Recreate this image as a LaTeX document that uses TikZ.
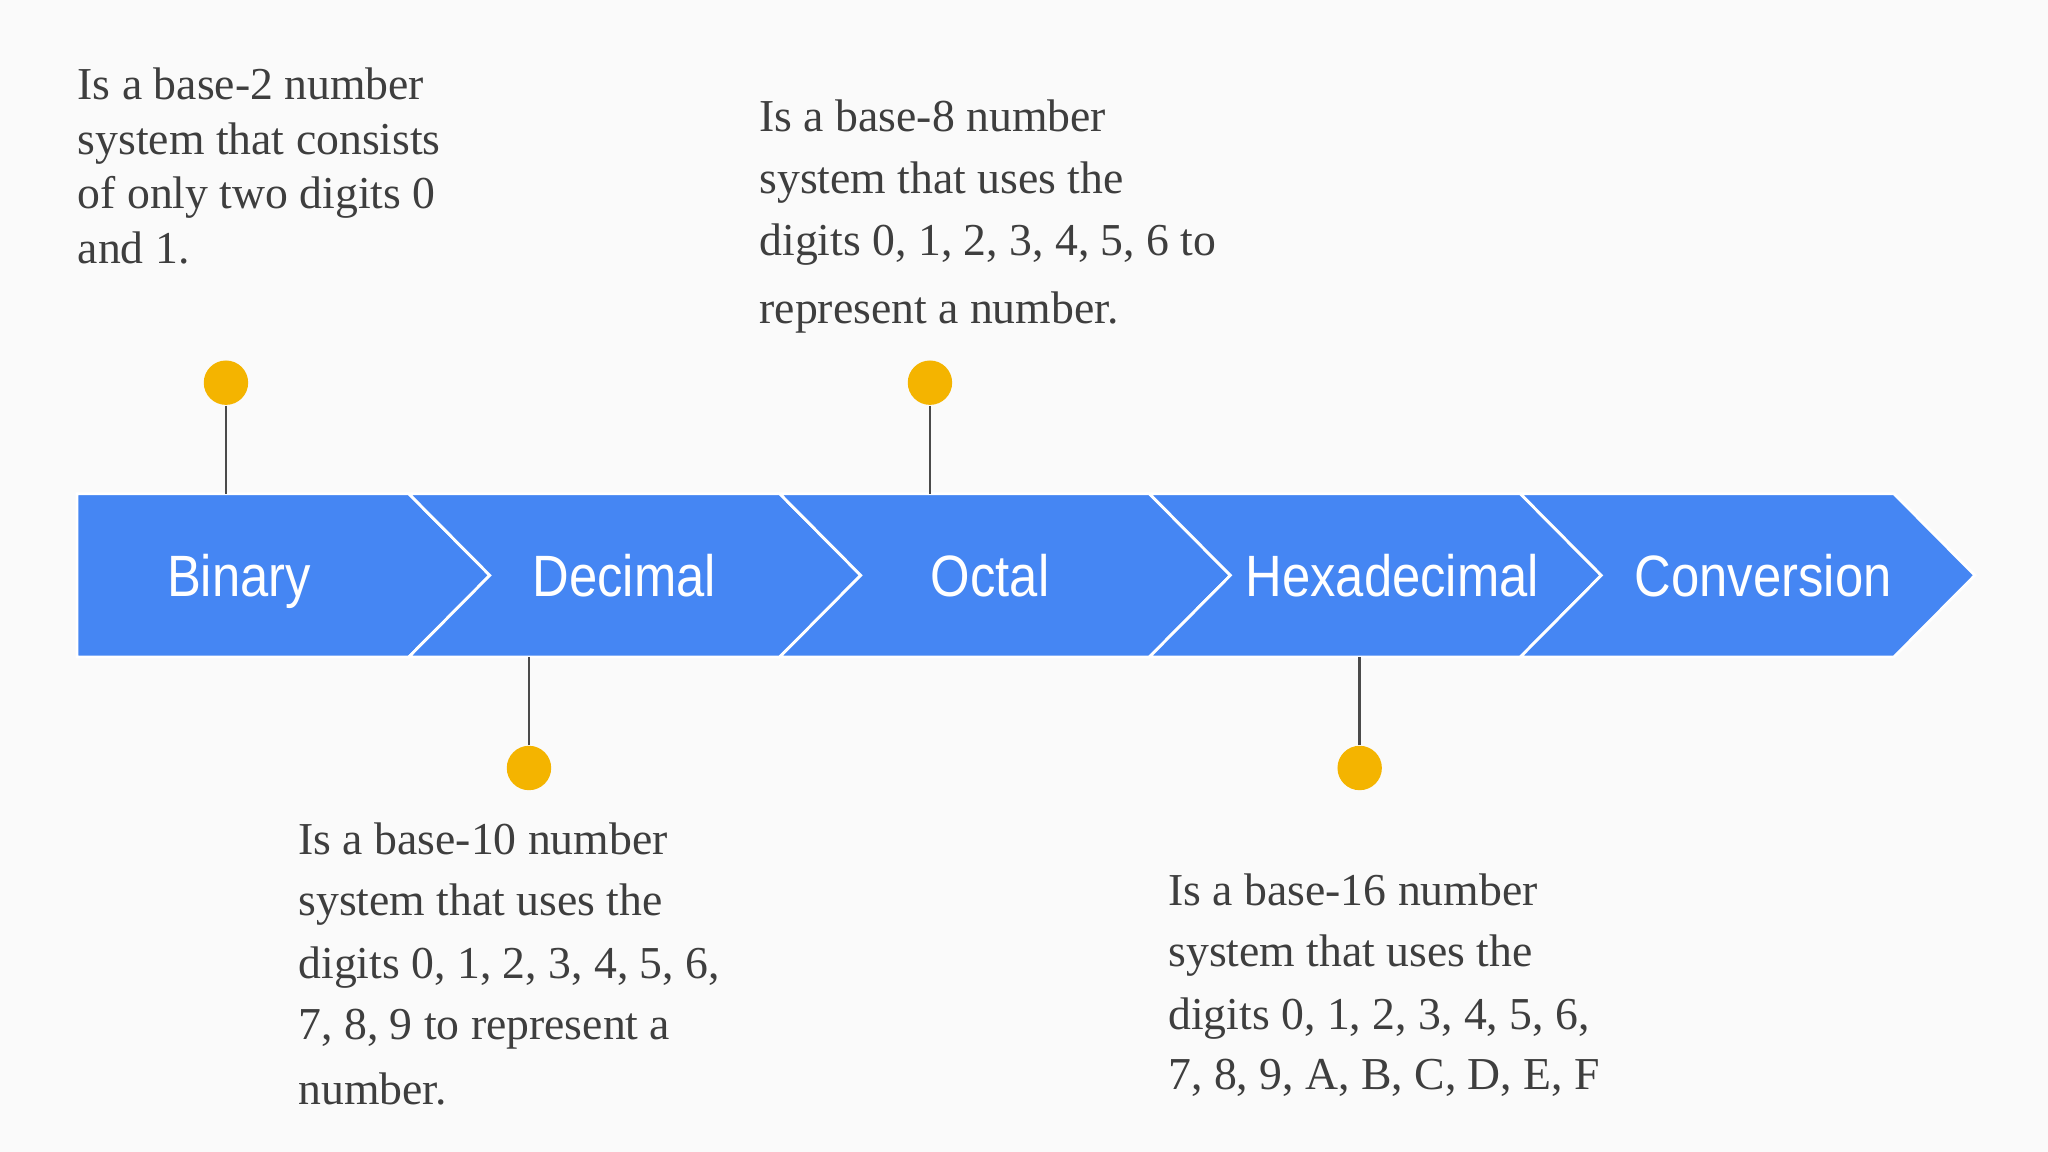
\documentclass[tikz,border=0pt]{standalone}
\usepackage{fontspec}
\setmainfont{Liberation Serif}
\newfontfamily\labfont[FakeStretch=0.87]{Liberation Sans}
\definecolor{bg}{HTML}{FAFAFA}
\definecolor{band}{HTML}{4586F3}
\definecolor{dotc}{HTML}{F4B400}
\definecolor{txtc}{HTML}{3E3E3E}
\definecolor{stem}{HTML}{4A4A4A}
\tikzset{
  seg/.style={fill=band, draw=white, line width=0.8pt, line join=miter},
  lab/.style={text=white, font=\labfont\fontsize{16.6}{18}\selectfont, anchor=base, inner sep=0pt},
  dotn/.style={circle, fill=dotc, minimum size=0.444cm, inner sep=0pt},
  stemline/.style={draw=stem, line width=0.8pt},
  txt/.style={text=txtc, font=\fontsize{13}{15}\selectfont, anchor=base west, inner sep=0pt}
}
\begin{document}
\begin{tikzpicture}[x=0.01306cm, y=-0.01306cm]
\fill[bg] (0,0) rectangle (1568,882);
\useasboundingbox (0,0) rectangle (1568,882);
% band segments
\path[seg] (59,378) -- (313,378) -- (375,440.5) -- (313,503) -- (59,503) -- cycle;
\path[seg] (313,378) -- (597,378) -- (659,440.5) -- (597,503) -- (313,503) -- (375,440.5) -- cycle;
\path[seg] (597,378) -- (880,378) -- (942,440.5) -- (880,503) -- (597,503) -- (659,440.5) -- cycle;
\path[seg] (880,378) -- (1164,378) -- (1226,440.5) -- (1164,503) -- (880,503) -- (942,440.5) -- cycle;
\path[seg] (1164,378) -- (1450,378) -- (1512,440.5) -- (1450,503) -- (1164,503) -- (1226,440.5) -- cycle;
% labels
\node[lab] (lbin) at (183,457) {Binary};
\node[lab] (ldec) at (478,457) {Decimal};
\node[lab] (loct) at (758,457) {Octal};
\node[lab] (lhex) at (1066,457) {Hexadecimal};
\node[lab] (lcon) at (1350,457) {Conversion};
% band attachment points
\coordinate (abin) at (173,378);
\coordinate (aoct) at (712,378);
\coordinate (adec) at (405,503);
\coordinate (ahex) at (1041,503);
% dots
\node[dotn] (dbin) at (173,293) {};
\node[dotn] (doct) at (712,293) {};
\node[dotn] (ddec) at (405,588) {};
\node[dotn] (dhex) at (1041,588) {};
\draw[stemline] (dbin.south) -- (abin);
\draw[stemline] (doct.south) -- (aoct);
\draw[stemline] (ddec.north) -- (adec);
\draw[stemline] (dhex.north) -- (ahex);
% Binary text
\node[txt] (b1) at (59,76) {Is a base-2 number};
\node[txt] (b2) at (59,118) {system that consists};
\node[txt] (b3) at (59,160) {of only two digits 0};
\node[txt] (b4) at (59,202) {and 1.};
% Octal text
\node[txt] (o1) at (581,101) {Is a base-8 number};
\node[txt] (o2) at (581,148) {system that uses the};
\node[txt] (o3) at (581,196) {digits 0, 1, 2, 3, 4, 5, 6 to};
\node[txt] (o4) at (581,248) {represent a number.};
% Decimal text
\node[txt] (c1) at (228,654) {Is a base-10 number};
\node[txt] (c2) at (228,701) {system that uses the};
\node[txt] (c3) at (228,749) {digits 0, 1, 2, 3, 4, 5, 6,};
\node[txt] (c4) at (228,796) {7, 8, 9 to represent a};
\node[txt] (c5) at (228,846) {number.};
% Hex text
\node[txt] (h1) at (894,693) {Is a base-16 number};
\node[txt] (h2) at (894,740) {system that uses the};
\node[txt] (h3) at (894,788) {digits 0, 1, 2, 3, 4, 5, 6,};
\node[txt] (h4) at (894,834) {7, 8, 9, A, B, C, D, E, F};
\end{tikzpicture}
\end{document}
